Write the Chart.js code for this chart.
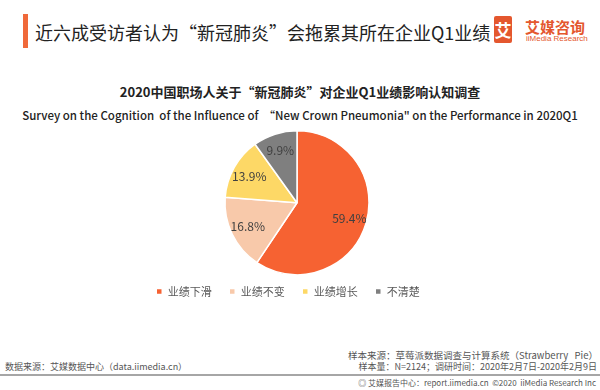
<!DOCTYPE html>
<html>
<head>
<meta charset="utf-8">
<script src="https://cdn.jsdelivr.net/npm/chart.js@4"></script>
<style>
  body { margin: 0; width: 600px; height: 390px; background: #fff; font-family: "Noto Sans CJK SC", "Noto Sans", sans-serif; position: relative; overflow: hidden; }
  .abs { position: absolute; white-space: nowrap; }
  #bar { left: 23px; top: 14px; width: 5px; height: 34px; background: #F0693A; }
  #title { left: 35px; top: 19px; font-size: 18px; color: #222; line-height: 26px; }
  #logoBox { left: 494px; top: 16px; width: 18px; height: 27px; background: #E4572E; border-radius: 2px; color: #fff; font-size: 17px; font-weight: bold; text-align: center; line-height: 27px; }
  #logoCn { left: 525px; top: 18px; font-size: 15px; color: #E4572E; font-weight: bold; line-height: 18px; }
  #logoEn { left: 526px; top: 34px; font-size: 8px; color: #E4572E; font-family: "Liberation Sans", sans-serif; line-height: 10px; }
  #sub1 { left: 0; width: 600px; top: 83px; text-align: center; font-size: 13px; font-weight: bold; color: #222; line-height: 18px; }
  #sub2 { left: 0; width: 600px; top: 107px; text-align: center; font-size: 11.5px; font-weight: 500; color: #222; line-height: 16px; }
  #chartBox { left: 0; top: 126px; width: 594px; height: 181px; }
  .foot { font-size: 9px; color: #555; line-height: 12px; }
  #src { left: 5px; top: 361px; }
  #r1 { right: 2px; top: 349px; font-size: 9.5px; }
  #r2 { right: 3px; top: 361px; }
  #rule { left: 0; top: 374px; width: 600px; height: 2px; background: #A6A6A6; }
  #r3 { right: 4px; top: 377px; font-size: 8px; }
</style>
</head>
<body>
<div class="abs" id="bar"></div>
<div class="abs" id="title">近六成受访者认为“新冠肺炎”会拖累其所在企业Q1业绩</div>
<div class="abs" id="logoBox">艾</div>
<div class="abs" id="logoCn">艾媒咨询</div>
<div class="abs" id="logoEn">iiMedia Research</div>
<div class="abs" id="sub1">2020中国职场人关于“新冠肺炎”对企业Q1业绩影响认知调查</div>
<div class="abs" id="sub2">Survey on the Cognition&nbsp; of the Influence of &nbsp;“New Crown Pneumonia" on the Performance in 2020Q1</div>
<div class="abs" id="chartBox"><canvas id="pie"></canvas></div>
<div class="abs foot" id="src">数据来源：艾媒数据中心（data.iimedia.cn）</div>
<div class="abs foot" id="r1">样本来源：草莓派数据调查与计算系统（Strawberry&nbsp;&nbsp; Pie）</div>
<div class="abs foot" id="r2">样本量：N=2124；调研时间：2020年2月7日-2020年2月9日</div>
<div class="abs" id="rule"></div>
<div class="abs foot" id="r3">◎ 艾媒报告中心：report.iimedia.cn&nbsp; ©2020&nbsp; iiMedia Research Inc</div>

<script>
const categories = ['业绩下滑', '业绩不变', '业绩增长', '不清楚'];
const shares = [59.4, 16.8, 13.9, 9.9];
const sliceColors = ['#F66232', '#F8C9AA', '#FDD866', '#7F7F7F'];

// draws the percent labels inside each slice
const sliceLabels = {
    id: 'sliceLabels',
    afterDatasetsDraw(chart) {
        const ctx = chart.ctx;
        const meta = chart.getDatasetMeta(0);
        ctx.save();
        ctx.font = '12px "Noto Sans CJK SC", sans-serif';
        ctx.fillStyle = '#404040';
        ctx.textAlign = 'center';
        ctx.textBaseline = 'middle';
        meta.data.forEach((arc, i) => {
            const p = arc.getProps(['x', 'y', 'startAngle', 'endAngle', 'outerRadius'], true);
            const mid = (p.startAngle + p.endAngle) / 2;
            const r = p.outerRadius * 0.76;
            ctx.fillText(shares[i].toFixed(1) + '%', p.x + Math.cos(mid) * r, p.y + Math.sin(mid) * r);
        });
        ctx.restore();
    }
};

// the legend in the original sits a little left of the pie centre
const legendNudge = {
    id: 'legendNudge',
    afterLayout(chart) {
        chart.legend.left -= 9;
        chart.legend.right -= 9;
    }
};

new Chart(document.getElementById('pie'), {
    type: 'pie',
    data: {
        labels: categories,
        datasets: [{
            data: shares,
            backgroundColor: sliceColors,
            borderColor: '#fff',
            borderWidth: 1.5,
            radius: 72
        }]
    },
    options: {
        responsive: true,
        maintainAspectRatio: false,
        animation: false,
        layout: { padding: { top: 11, bottom: 0 } },
        plugins: {
            tooltip: { enabled: false },
            legend: {
                position: 'bottom',
                labels: {
                    boxWidth: 6,
                    boxHeight: 6,
                    padding: 17.5,
                    color: '#595959',
                    font: { size: 11, family: '"Noto Sans CJK SC", sans-serif' }
                }
            }
        }
    },
    plugins: [sliceLabels, legendNudge]
});
</script>
</body>
</html>
